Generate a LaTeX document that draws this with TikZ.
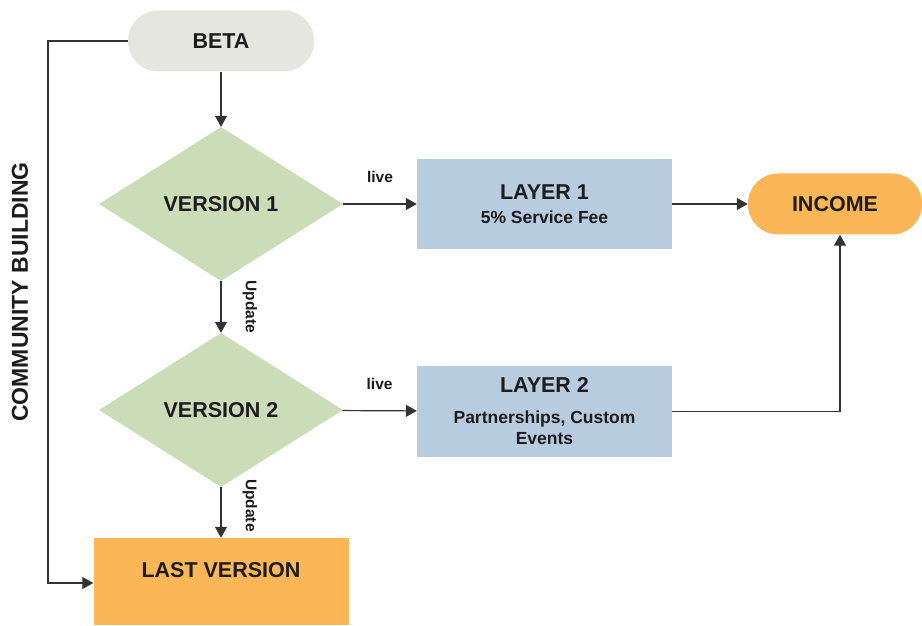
\documentclass[tikz,border=0pt]{standalone}
\usepackage{fontspec}
\setmainfont{Liberation Sans}
\usetikzlibrary{shapes.geometric}
\usetikzlibrary{
        arrows.meta,
    }

\definecolor{betagrey}{HTML}{E6E6E1}
\definecolor{versiongreen}{HTML}{CADCB8}
\definecolor{layerblue}{HTML}{B8CCE0}
\definecolor{incomeorange}{HTML}{FBB757}
\definecolor{linegrey}{HTML}{333333}
\definecolor{inkdark}{HTML}{1C1C1C}

\begin{document}
\begin{tikzpicture}[x=1pt,y=1pt,text=inkdark,
        big/.style={font=\fontsize{21.5}{24}\selectfont\bfseries},
        sub/.style={font=\fontsize{17.5}{21}\selectfont\bfseries},
        tag/.style={font=\fontsize{15.5}{18}\selectfont\bfseries},
        pill/.style={rectangle, rounded corners=30pt, minimum height=61pt, inner sep=0pt, big},
        version/.style={diamond, fill=versiongreen, minimum width=244pt, minimum height=154pt, aspect=1.6, inner sep=0pt, big},
        layer/.style={rectangle, fill=layerblue, minimum width=255pt, minimum height=90pt, inner sep=0pt, align=center, sub},
        flow/.style={draw=linegrey, line width=1.2pt, -{Triangle[length=11pt,width=12pt]}},
    ]
        \useasboundingbox (0,0) rectangle (922,625);
        \begin{scope}
            % left column
            \node [pill, fill=betagrey, minimum width=186pt] (beta) at (221,584) {BETA};
            \node [version] (v1) at (221,421) {VERSION 1};
            \node [version] (v2) at (221,215) {VERSION 2};
            \node [rectangle, fill=incomeorange, minimum width=255pt, inner sep=0pt,
                   text height=39pt, text depth=48pt, big] (last) at (221,43.5) {LAST VERSION};
            % right column
            \node [layer] (layer1) at (544.5,421) {{\fontsize{21.5}{24}\selectfont LAYER 1}\\[3pt]5\% Service Fee};
            \node [layer, minimum height=91pt] (layer2) at (544.5,213.5) {{\fontsize{21.5}{24}\selectfont LAYER 2}\\[10pt]Partnerships, Custom\\Events};
            \node [pill, fill=incomeorange, minimum width=174pt] (income) at (835,421) {INCOME};
            \node [big, font=\fontsize{23}{26}\selectfont\bfseries, rotate=90] (community) at (20,333) {COMMUNITY BUILDING};
        \end{scope}

        \draw [flow] (beta) -- (v1);
        \draw [flow] (v1) -- node [midway, tag, xshift=29pt, rotate=-90] {Update} (v2);
        \draw [flow] (v2) -- node [midway, tag, xshift=29pt, yshift=7pt, rotate=-90] {Update} (last);
        \draw [flow] (v1) -- node [midway, tag, above=17pt] {live} (layer1);
        \draw [flow] (v2) -- node [midway, tag, above=17pt] {live} (layer2);
        \draw [flow] (layer1) -- (income);
        \draw [flow] (layer2.east) -| ([xshift=5pt]income.south);

        \coordinate (bend) at (48,42);
        \draw [flow] (beta.west) -| (bend) -- (bend -| last.west);
    \end{tikzpicture}
\end{document}
